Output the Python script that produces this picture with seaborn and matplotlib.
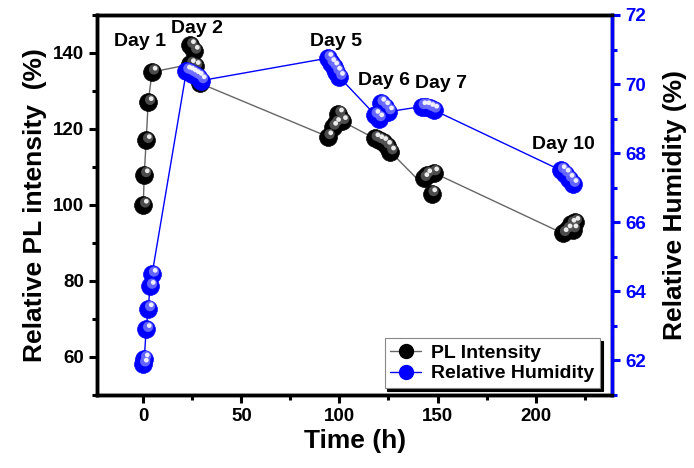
import numpy as np
import pandas as pd
import seaborn as sns
import matplotlib
matplotlib.use("Agg")
import matplotlib.pyplot as plt
from matplotlib.lines import Line2D
from matplotlib.transforms import offset_copy

# ---- data ----
t_pl = [0, 0.5, 1.5, 2.5, 4.5,
        24, 24, 26, 26.5, 29,
        94, 96.5, 98, 99.5, 101.5,
        118, 120, 122, 124, 126,
        147, 143, 144.5, 148,
        214, 216, 218, 220, 219]
pl = [100, 108, 117, 127, 135,
      137, 142, 140.5, 136.5, 132,
      118, 120.5, 121.5, 124, 122,
      117.5, 117, 116.5, 115.5, 114,
      103, 107, 108, 108.5,
      92.5, 93.5, 95, 95.5, 93.5]

t_rh = [0, 0.5, 1.5, 2.5, 3.5, 4.5,
        22, 23.5, 25, 26.5, 28, 29.5,
        94, 95.5, 97, 98.5, 100,
        120, 118, 121, 123, 125,
        142, 144, 146, 148,
        213, 215, 217, 219]
rh = [61.9, 62.05, 62.9, 63.5, 64.15, 64.5,
      70.38, 70.35, 70.3, 70.25, 70.2, 70.1,
      70.75, 70.6, 70.5, 70.35, 70.2,
      69.0, 69.1, 69.45, 69.35, 69.2,
      69.35, 69.35, 69.3, 69.25,
      67.5, 67.4, 67.25, 67.1]

day_labels = ["Day 1", "Day 2", "Day 5", "Day 6", "Day 7", "Day 10"]
day_label_t = [-1.5, 27.5, 98, 122.5, 152, 214]
day_label_pl = [143, 146.5, 143, 132.8, 132, 116]

xticks = [0, 50, 100, 150, 200]
yticks_left = [60, 80, 100, 120, 140]
yticks_right = [62, 64, 66, 68, 70, 72]

df_pl = pd.DataFrame({"t": t_pl, "v": pl})
df_rh = pd.DataFrame({"t": t_rh, "v": rh})

# ---- style ----
sns.set_style("ticks")
plt.rcParams["font.family"] = ["Liberation Sans", "DejaVu Sans"]
plt.rcParams["font.weight"] = "bold"
for k in ["text.color", "axes.labelcolor", "xtick.color", "ytick.color", "axes.edgecolor"]:
    plt.rcParams[k] = "black"

fig = plt.figure(figsize=(6.94, 4.68), dpi=100)
ax = fig.add_axes([0.14, 0.156, 0.742, 0.812])
ax2 = ax.twinx()

blue = "#0000ff"
ms = 165

def sphere(axis, df, base, mid, color_line, lw):
    sns.lineplot(data=df, x="t", y="v", ax=axis, sort=False, color=color_line,
                 lw=lw, estimator=None, zorder=1, legend=False)
    sns.scatterplot(data=df, x="t", y="v", ax=axis, s=ms, color=base,
                    edgecolor=base, linewidth=0.5, zorder=2, legend=False)
    tr = offset_copy(axis.transData, fig=fig, x=1.4, y=1.8, units="points")
    axis.scatter(df["t"], df["v"], s=ms * 0.33, color=mid, edgecolor="none",
                 transform=tr, zorder=3, alpha=0.9)
    tr2 = offset_copy(axis.transData, fig=fig, x=2.2, y=2.7, units="points")
    axis.scatter(df["t"], df["v"], s=ms * 0.07, color="white", edgecolor="none",
                 transform=tr2, zorder=4, alpha=0.9)

sphere(ax, df_pl, "black", "#555555", "#666666", 1.0)
sphere(ax2, df_rh, blue, "#6f6fff", blue, 1.0)

ax.set_xlim(-23.5, 239)
ax.set_ylim(50, 150)
ax2.set_ylim(61, 72)

ax.set_xticks(xticks)
ax.set_xticks([25, 75, 125, 175, 225], minor=True)
ax.set_yticks(yticks_left)
ax.set_yticks([50, 70, 90, 110, 130, 150], minor=True)
ax2.set_yticks(yticks_right)
ax2.set_yticks([61, 63, 65, 67, 69, 71], minor=True)

for a in (ax, ax2):
    for s in a.spines.values():
        s.set_linewidth(2.5)
        s.set_visible(True)
        s.set_color("black")
ax2.spines["right"].set_color(blue)

ax.tick_params(axis="both", which="major", direction="out", length=6, width=2.2,
               labelsize=13.5, colors="black")
ax.tick_params(axis="both", which="minor", direction="out", length=3.5, width=2.2,
               colors="black")
ax2.tick_params(axis="y", which="major", direction="out", length=6, width=2.2,
                labelsize=13.5, colors=blue)
ax2.tick_params(axis="y", which="minor", direction="out", length=3.5, width=2.2,
                colors=blue)
for lab in ax.get_xticklabels() + ax.get_yticklabels() + ax2.get_yticklabels():
    lab.set_fontweight("bold")

ax.set_xlabel("Time (h)", fontsize=19, fontweight="bold", labelpad=3)
ax.set_ylabel("Relative PL intensity  (%)", fontsize=19, fontweight="bold", labelpad=4)
ax2.set_ylabel("Relative Humidity (%)", fontsize=19, fontweight="bold", labelpad=12,
               color="black")

for lab, tx, ty in zip(day_labels, day_label_t, day_label_pl):
    ax.text(tx, ty, lab, ha="center", va="center", fontsize=14, fontweight="bold",
            zorder=6)

h1 = Line2D([], [], color="#666666", lw=1, marker="o", mfc="black", mec="black", ms=10)
h2 = Line2D([], [], color=blue, lw=1, marker="o", mfc=blue, mec=blue, ms=10)
leg = ax2.legend([h1, h2], ["PL Intensity", "Relative Humidity"], loc="lower right",
                 bbox_to_anchor=(0.977, 0.018), borderaxespad=0, fancybox=False,
                 shadow={"color": "black", "alpha": 1}, framealpha=1,
                 edgecolor="#888888", handlelength=1.6, handletextpad=0.5,
                 prop={"weight": "bold", "size": 14}, borderpad=0.3,
                 labelspacing=0.15)
leg.get_frame().set_linewidth(0.8)
leg.set_zorder(10)

fig.savefig("out.png", dpi=100)
